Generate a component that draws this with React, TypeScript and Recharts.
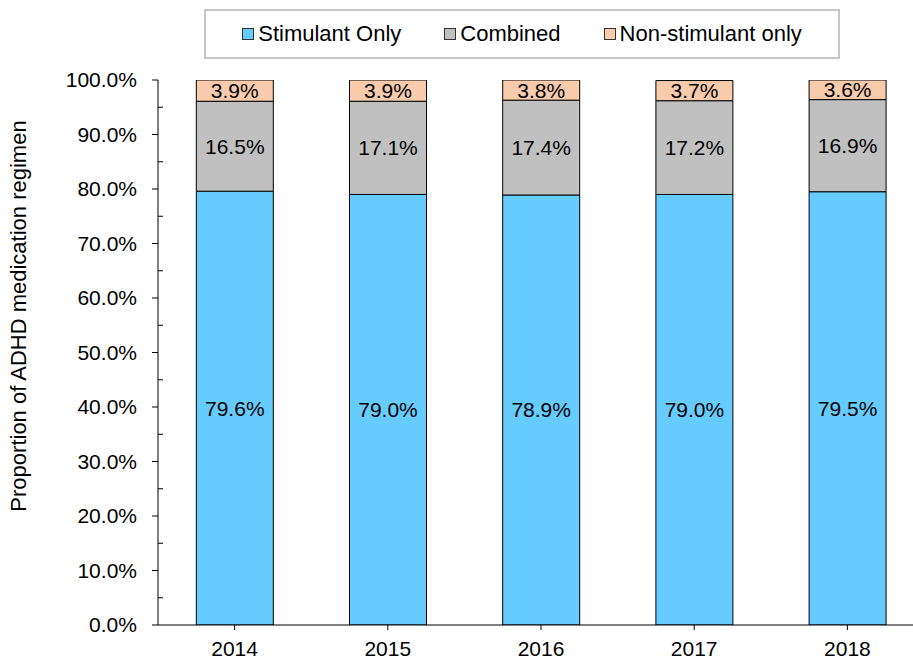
import React from 'react';
import { BarChart, Bar, XAxis, YAxis, LabelList } from 'recharts';

const years = ['2014', '2015', '2016', '2017', '2018'];
const stimulantOnly = [79.6, 79.0, 78.9, 79.0, 79.5];
const combined = [16.5, 17.1, 17.4, 17.2, 16.9];
const nonStimulantOnly = [3.9, 3.9, 3.8, 3.7, 3.6];
const yTicks = [0, 5, 10, 15, 20, 25, 30, 35, 40, 45, 50, 55, 60, 65, 70, 75, 80, 85, 90, 95, 100];

const series = [
  { key: 'stimulant', name: 'Stimulant Only', color: '#66CCFF' },
  { key: 'combined', name: 'Combined', color: '#C0C0C0' },
  { key: 'nonStimulant', name: 'Non-stimulant only', color: '#F8CBAD' },
];

const data = years.map((year, i) => ({
  year,
  stimulant: stimulantOnly[i],
  combined: combined[i],
  nonStimulant: nonStimulantOnly[i],
}));

const FONT = '"Liberation Sans", Arial, sans-serif';
const AXIS_X = 158;

function YTick(props: any) {
  const { y, payload } = props;
  const v = payload.value as number;
  const major = v % 10 === 0;
  return (
    <g>
      {major ? (
        <line x1={AXIS_X - 6} x2={AXIS_X} y1={y} y2={y} stroke="#000" />
      ) : (
        <line x1={AXIS_X} x2={AXIS_X + 5} y1={y} y2={y} stroke="#000" />
      )}
      {major && (
        <text x={AXIS_X - 21} y={y} dy="0.355em" textAnchor="end" fontSize={21} fill="#000" fontFamily={FONT}>
          {v.toFixed(1)}%
        </text>
      )}
    </g>
  );
}

const fmt = (v: any) => `${Number(v).toFixed(1)}%`;

export default function App() {
  return (
    <div style={{ position: 'absolute', left: 0, top: 0, width: 913, height: 660, overflow: 'hidden', background: '#fff', fontFamily: FONT }}>
      <div
        style={{
          position: 'absolute', left: 204, top: 9, width: 636, height: 50, boxSizing: 'border-box',
          border: '2px solid #c6c6c6', display: 'flex', alignItems: 'center', justifyContent: 'center', gap: 43,
          fontSize: 22, color: '#000',
        }}
      >
        {series.map((s) => (
          <div key={s.key} style={{ display: 'flex', alignItems: 'center' }}>
            <span style={{ width: 10, height: 10, background: s.color, border: '1px solid #333', marginRight: 4 }} />
            <span>{s.name}</span>
          </div>
        ))}
      </div>
      <div
        style={{
          position: 'absolute', left: 19, top: 316, transform: 'translate(-50%, -50%) rotate(-90deg)',
          whiteSpace: 'nowrap', fontSize: 22, color: '#000',
        }}
      >
        Proportion of ADHD medication regimen
      </div>
      <BarChart
        width={930}
        height={660}
        data={data}
        margin={{ top: 80, right: 6, bottom: 0, left: 0 }}
        barCategoryGap="25%"
      >
        <XAxis
          dataKey="year"
          height={35}
          axisLine={{ stroke: '#000' }}
          tickLine={{ stroke: '#000' }}
          tickSize={5}
          tickMargin={11}
          tick={{ fill: '#000', fontSize: 21, fontFamily: FONT }}
        />
        <YAxis
          width={158}
          domain={[0, 100]}
          allowDataOverflow
          ticks={yTicks}
          interval={0}
          axisLine={{ stroke: '#000' }}
          tickLine={false}
          tick={<YTick />}
        />
        {series.map((s) => (
          <Bar key={s.key} dataKey={s.key} name={s.name} stackId="a" fill={s.color} stroke="#000" strokeWidth={1} isAnimationActive={false}>
            <LabelList dataKey={s.key} position="center" formatter={fmt} fill="#000" fontSize={21} fontFamily={FONT} />
          </Bar>
        ))}
      </BarChart>
    </div>
  );
}
